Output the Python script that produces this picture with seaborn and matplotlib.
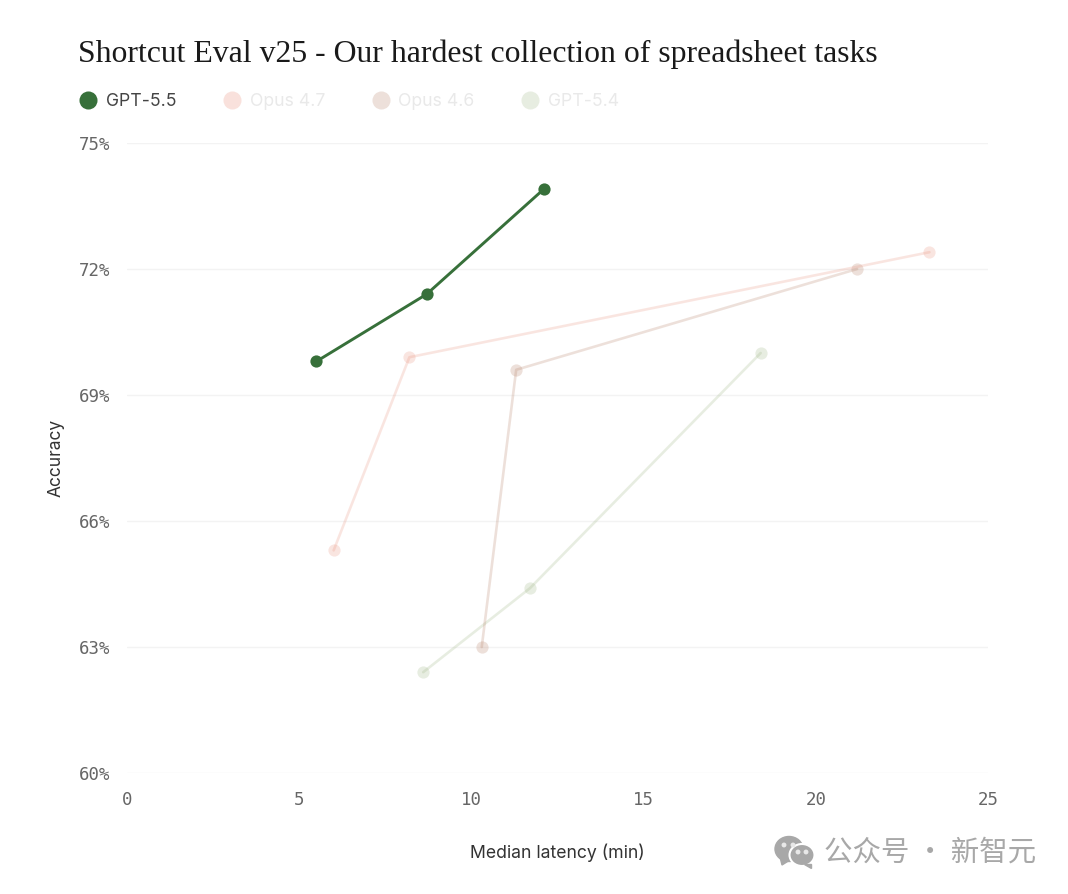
import pandas as pd
import matplotlib
matplotlib.use('Agg')
import matplotlib.pyplot as plt
import seaborn as sns
from matplotlib.lines import Line2D
from matplotlib.patches import Ellipse, Polygon

models = ['GPT-5.4', 'Opus 4.6', 'Opus 4.7', 'GPT-5.5']
legend_order = ['GPT-5.5', 'Opus 4.7', 'Opus 4.6', 'GPT-5.4']

latency_55 = [5.5, 8.7, 12.1]
accuracy_55 = [69.8, 71.4, 73.9]
latency_o47 = [6.0, 8.2, 23.3]
accuracy_o47 = [65.3, 69.9, 72.4]
latency_o46 = [10.3, 11.3, 21.2]
accuracy_o46 = [63.0, 69.6, 72.0]
latency_54 = [8.6, 11.7, 18.4]
accuracy_54 = [62.4, 64.4, 70.0]

x_ticks = [0, 5, 10, 15, 20, 25]
y_ticks = [60, 63, 66, 69, 72, 75]

colors = {'GPT-5.5': '#37703a', 'Opus 4.7': '#e88b76', 'Opus 4.6': '#b9866e', 'GPT-5.4': '#a3b98a'}
alphas = {'GPT-5.5': 1.0, 'Opus 4.7': 0.22, 'Opus 4.6': 0.25, 'GPT-5.4': 0.25}

df = pd.concat([
    pd.DataFrame({'model': 'GPT-5.5', 'latency': latency_55, 'accuracy': accuracy_55}),
    pd.DataFrame({'model': 'Opus 4.7', 'latency': latency_o47, 'accuracy': accuracy_o47}),
    pd.DataFrame({'model': 'Opus 4.6', 'latency': latency_o46, 'accuracy': accuracy_o46}),
    pd.DataFrame({'model': 'GPT-5.4', 'latency': latency_54, 'accuracy': accuracy_54}),
])

sns.set_theme(style='white')
plt.rcParams['font.family'] = ['Inter', 'DejaVu Sans']

W, H = 1068, 894
fig = plt.figure(figsize=(W / 100, H / 100), dpi=100, facecolor='white')
ax = fig.add_axes([127 / W, 1 - 773 / H, (988 - 127) / W, (773 - 143) / H])

for m in models:
    sns.lineplot(data=df[df['model'] == m], x='latency', y='accuracy', ax=ax,
                 color=colors[m], alpha=alphas[m], linewidth=2.1 if m == 'GPT-5.5' else 1.9, marker='o',
                 markersize=8.8, markeredgewidth=0, sort=False, errorbar=None, zorder=3)

ax.set_xlim(0, 25)
ax.set_ylim(60, 75)
ax.set_xticks(x_ticks)
ax.set_yticks(y_ticks)
ax.set_yticklabels([f'{v}%' for v in y_ticks])
ax.grid(axis='y', color='#f3f3f3', linewidth=1)
ax.set_axisbelow(True)
sns.despine(ax=ax, left=True, bottom=True, top=True, right=True)
ax.tick_params(axis='both', length=0, labelsize=12.5, labelcolor='#666666')
ax.tick_params(axis='x', pad=13)
ax.tick_params(axis='y', pad=12)
for t in ax.get_xticklabels() + ax.get_yticklabels():
    t.set_fontfamily('DejaVu Sans Mono')

ax.set_xlabel('')
ax.set_ylabel('')
fig.text(557 / W, 1 - 853 / H, 'Median latency (min)', ha='center', va='center', fontsize=12.7, color='#333333')
fig.text(56 / W, 1 - 458 / H, 'Accuracy', ha='center', va='center', rotation=90, fontsize=12.5, color='#333333')

fig.text(78 / W, 1 - 54 / H, 'Shortcut Eval v25 - Our hardest collection of spreadsheet tasks',
         ha='left', va='center', fontsize=22.9, color='#1a1a1a', family='Liberation Serif')

# legend
handles = [Line2D([], [], linestyle='none', marker='o', markersize=13, markeredgewidth=0,
                  color=colors[m], alpha=alphas[m] if m == 'GPT-5.5' else 0.25) for m in legend_order]
leg = fig.legend(handles, legend_order, loc='center left', bbox_to_anchor=(76 / W, 1 - 102 / H),
                 ncol=4, frameon=False, fontsize=12.7, handletextpad=0.3, columnspacing=2.45,
                 handlelength=1.4, borderpad=0, borderaxespad=0)
for t, m in zip(leg.get_texts(), legend_order):
    t.set_color('#444444' if m == 'GPT-5.5' else '#e9e9e9')

# watermark
overlay = fig.add_axes([0, 0, 1, 1], facecolor='none')
overlay.set_xlim(0, W)
overlay.set_ylim(H, 0)
overlay.axis('off')
grey = '#a8a8a8'
overlay.add_patch(Ellipse((789, 849), 28, 25, color=grey, zorder=1))
overlay.add_patch(Polygon([[780, 857], [782, 865], [790, 860]], color=grey, zorder=1))
overlay.add_patch(Ellipse((802, 855), 25, 22, facecolor=grey, edgecolor='white', linewidth=1.5, zorder=2))
overlay.add_patch(Polygon([[804, 864], [811, 864], [811, 868]], color=grey, zorder=2))
for cx, cy in [(784, 845), (793, 845), (798, 852), (806, 852)]:
    overlay.add_patch(Ellipse((cx, cy), 3.5, 3.5, color='#e8e8e8', zorder=3))
overlay.text(824, 853, '公众号 · 新智元', ha='left', va='center', fontsize=20.5, color=grey,
             family=['Noto Sans CJK SC', 'DejaVu Sans'])

fig.savefig('out.png', dpi=100, facecolor='white')
